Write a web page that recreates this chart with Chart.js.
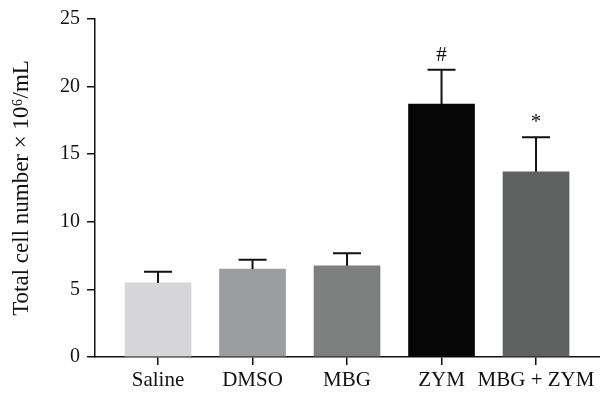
<!DOCTYPE html>
<html>
<head>
<meta charset="utf-8">
<script src="https://cdn.jsdelivr.net/npm/chart.js@4/dist/chart.umd.min.js"></script>
<style>
html,body{margin:0;padding:0;background:#fff;}
#wrap{width:600px;height:398px;position:relative;}
</style>
</head>
<body>
<div id="wrap"><canvas id="c" width="600" height="398"></canvas></div>
<script>
const categories = ["Saline", "DMSO", "MBG", "ZYM", "MBG + ZYM"];
const means = [5.48, 6.5, 6.75, 18.7, 13.7];
const errors = [0.82, 0.7, 0.93, 2.55, 2.55];
const marks = ["", "", "", "#", "*"];
const barColors = ["#d6d6d8", "#9c9da1", "#7d7e7e", "#060607", "#5f6060"];
const yTicks = [0, 5, 10, 15, 20, 25];

const FONT = "'Liberation Serif', 'DejaVu Serif', serif";

const errorBars = {
  id: 'errorBars',
  afterDatasetsDraw(chart) {
    const ctx = chart.ctx;
    const xs = chart.scales.x, ys = chart.scales.y;
    ctx.save();
    ctx.strokeStyle = '#111';
    ctx.lineWidth = 2;
    means.forEach((m, i) => {
      const x = xs.getPixelForValue(i);
      const y0 = ys.getPixelForValue(m);
      const y1 = ys.getPixelForValue(m + errors[i]);
      const half = 14;
      ctx.beginPath();
      ctx.moveTo(x, y0);
      ctx.lineTo(x, y1);
      ctx.moveTo(x - half, y1);
      ctx.lineTo(x + half, y1);
      ctx.stroke();
      if (marks[i]) {
        ctx.fillStyle = '#111';
        ctx.font = "21px " + FONT;
        ctx.textAlign = 'center';
        ctx.textBaseline = 'bottom';
        ctx.fillText(marks[i], x, y1 - 4);
      }
    });
    ctx.restore();
  }
};

new Chart(document.getElementById('c'), {
  type: 'bar',
  data: {
    datasets: [{
      data: means.map((v, i) => ({x: i, y: v})),
      backgroundColor: barColors,
      borderWidth: 0,
      barThickness: 66
    }]
  },
  options: {
    responsive: false,
    animation: false,
    devicePixelRatio: 1,
    layout: {padding: {top: 14, right: 0, bottom: 0, left: 0}},
    plugins: {legend: {display: false}, tooltip: {enabled: false}},
    scales: {
      x: {
        type: 'linear',
        offset: false,
        min: -0.667,
        max: 4.677,
        afterFit(s) { s.height = 41; },
        grid: {offset: false, drawOnChartArea: false, drawTicks: true, tickLength: 8, color: '#111', lineWidth: 1.5},
        border: {display: true, color: '#111', width: 1.5},
        ticks: {
          stepSize: 1,
          includeBounds: false,
          autoSkip: false,
          maxRotation: 0,
          padding: 3,
          color: '#111',
          font: {family: FONT, size: 21},
          callback: (v) => Number.isInteger(v) && categories[v] !== undefined ? categories[v] : ''
        }
      },
      y: {
        min: 0,
        max: 25,
        afterFit(s) { s.width = 95; },
        afterBuildTicks(s) { s.ticks = yTicks.map(v => ({value: v})); },
        grid: {drawOnChartArea: false, drawTicks: true, tickLength: 8, color: '#111', lineWidth: 1.5},
        border: {display: true, color: '#111', width: 1.5},
        ticks: {
          padding: 7,
          color: '#111',
          font: {family: FONT, size: 20}
        },
        title: {
          display: true,
          text: 'Total cell number × 10⁶/mL',
          color: '#111',
          font: {family: FONT, size: 23},
          padding: {top: 8, bottom: 0}
        }
      }
    }
  },
  plugins: [errorBars]
});
</script>
</body>
</html>
